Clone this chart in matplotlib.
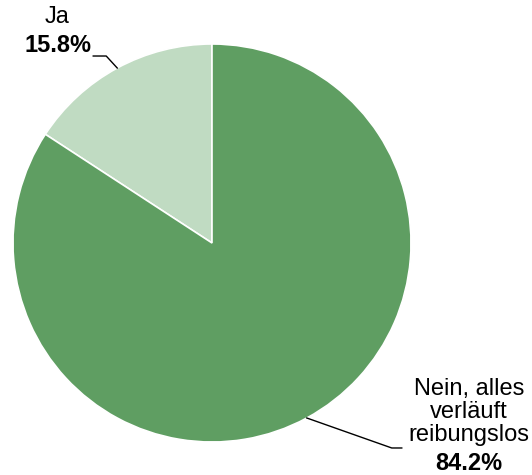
import numpy as np
import matplotlib.pyplot as plt

plt.rcParams["font.family"] = ["Liberation Sans", "DejaVu Sans"]

labels = ["Ja", "Nein, alles\nverläuft\nreibungslos"]
shares = [15.8, 84.2]
colors = ["#c0dbc2", "#5f9e62"]

W, H = 532, 475
cx, cy, r = 212, H - 243, 199

fig = plt.figure(figsize=(W / 100, H / 100), dpi=100)
ax = fig.add_axes([0, 0, 1, 1])

wedges, _ = ax.pie(shares, colors=colors, startangle=90, counterclock=True,
                   center=(cx, cy), radius=r,
                   wedgeprops=dict(edgecolor="white", linewidth=1.2))
ax.set_xlim(0, W)
ax.set_ylim(0, H)
ax.set_aspect("equal")
ax.axis("off")

# leader lines from wedge mid-angle
for w, lab, val in zip(wedges, labels, shares):
    mid = np.deg2rad((w.theta1 + w.theta2) / 2)
    px, py = cx + r * np.cos(mid), cy + r * np.sin(mid)
    if np.cos(mid) < 0:
        ex, ey = px - 11, py + 12
        ax.plot([px, ex, ex - 13], [py, ey, ey], color="black", lw=1)
        ax.text(57, H - 17, lab, ha="center", va="center", fontsize=17)
        ax.text(58, H - 46, f"{val:.1f}%", ha="center", va="center",
                fontsize=17, fontweight="bold")
    else:
        ex, ey = px + 85, py - 30
        ax.plot([px, ex, ex + 10], [py, ey, ey], color="black", lw=1)
        ax.text(469, H - 412, lab, ha="center", va="center", fontsize=17,
                linespacing=1.05)
        ax.text(469, H - 463, f"{val:.1f}%", ha="center", va="center",
                fontsize=17, fontweight="bold")

fig.savefig("out.png", dpi=100)
